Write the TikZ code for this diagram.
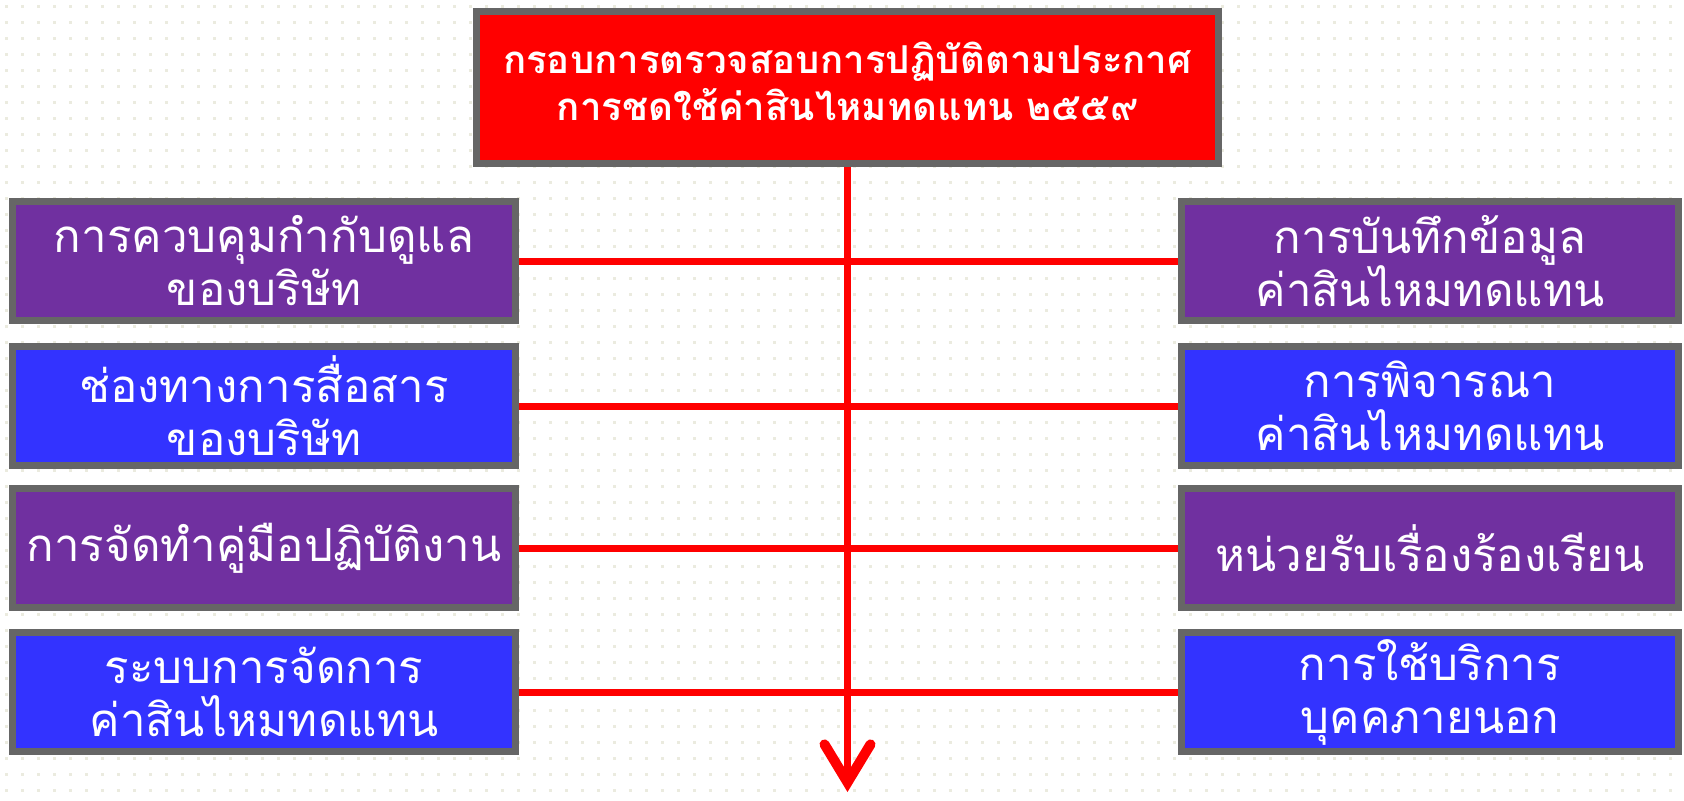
\documentclass[tikz,border=0pt]{standalone}
\usepackage{fontspec}
\newfontfamily\thaifont[Script=Thai]{Loma}
\usetikzlibrary{arrows.meta}
\definecolor{bpurple}{HTML}{7030A0}
\definecolor{bblue}{HTML}{3333FF}
\definecolor{bgray}{HTML}{666666}
\definecolor{bred}{HTML}{FF0000}
\definecolor{dotc}{HTML}{EBEBDF}
\tikzset{
  boxbase/.style={draw=bgray, line width=3.5pt, rectangle, text=white, align=center, inner sep=0pt,
    font=\thaifont\fontsize{22.8}{26.5}\selectfont},
  lbox/.style={boxbase, minimum width=251.5pt, minimum height=59.5pt},
  rbox/.style={boxbase, minimum width=248.5pt, minimum height=59.5pt},
  pbox/.style={fill=bpurple},
  bbox/.style={fill=bblue},
  topbox/.style={draw=bgray, line width=3.5pt, fill=bred, text=white, align=center, inner sep=0pt,
    minimum width=371pt, minimum height=76pt, font=\thaifont\bfseries\fontsize{19.2}{23.5}\selectfont},
  link/.style={draw=bred, line width=3.5pt},
  mainarrow/.style={draw=bred, line width=3.5pt, -{Straight Barb[length=19pt, width=23pt, line width=5pt, line cap=round]}}
}
\begin{document}
\begin{tikzpicture}[x=0.5pt, y=-0.5pt]
\useasboundingbox (0,0) rectangle (1684,800);
\fill[white] (0,0) rectangle (1684,800);
\foreach \i in {0,...,104} {
  \foreach \j in {0,...,49} {
    \fill[dotc] (\i*16+5,\j*16+5) rectangle ++(2.5,2.5);
  }
}
% top box
\node[topbox] (top) at (847.5,87) {กรอบการตรวจสอบการปฏิบัติตามประกาศ\\การชดใช้ค่าสินไหมทดแทน ๒๕๕๙\\[-18pt]\mbox{}};
% left boxes
\node[lbox, pbox] (L1) at (264,261) {การควบคุมกำกับดูแล\\ของบริษัท};
\node[lbox, bbox] (L2) at (264,406) {ช่องทางการสื่อสาร\\ของบริษัท};
\node[lbox, pbox] (L3) at (264,548) {การจัดทำคู่มือปฏิบัติงาน};
\node[lbox, bbox] (L4) at (264,692) {ระบบการจัดการ\\ค่าสินไหมทดแทน};
% right boxes
\node[rbox, pbox] (R1) at (1430,261) {การบันทึกข้อมูล\\ค่าสินไหมทดแทน};
\node[rbox, bbox] (R2) at (1430,406) {การพิจารณา\\ค่าสินไหมทดแทน};
\node[rbox, pbox] (R3) at (1430,548) {หน่วยรับเรื่องร้องเรียน};
\node[rbox, bbox] (R4) at (1430,692) {การใช้บริการ\\บุคคภายนอก};
% connectors
\coordinate (end) at (847.5,792);
\draw[link] (L1.east) -- (R1.west);
\draw[link] (L2.east) -- (R2.west);
\draw[link] (L3.east) -- (R3.west);
\draw[link] (L4.east) -- (R4.west);
\draw[mainarrow] (top.south) -- (end);
\end{tikzpicture}
\end{document}
